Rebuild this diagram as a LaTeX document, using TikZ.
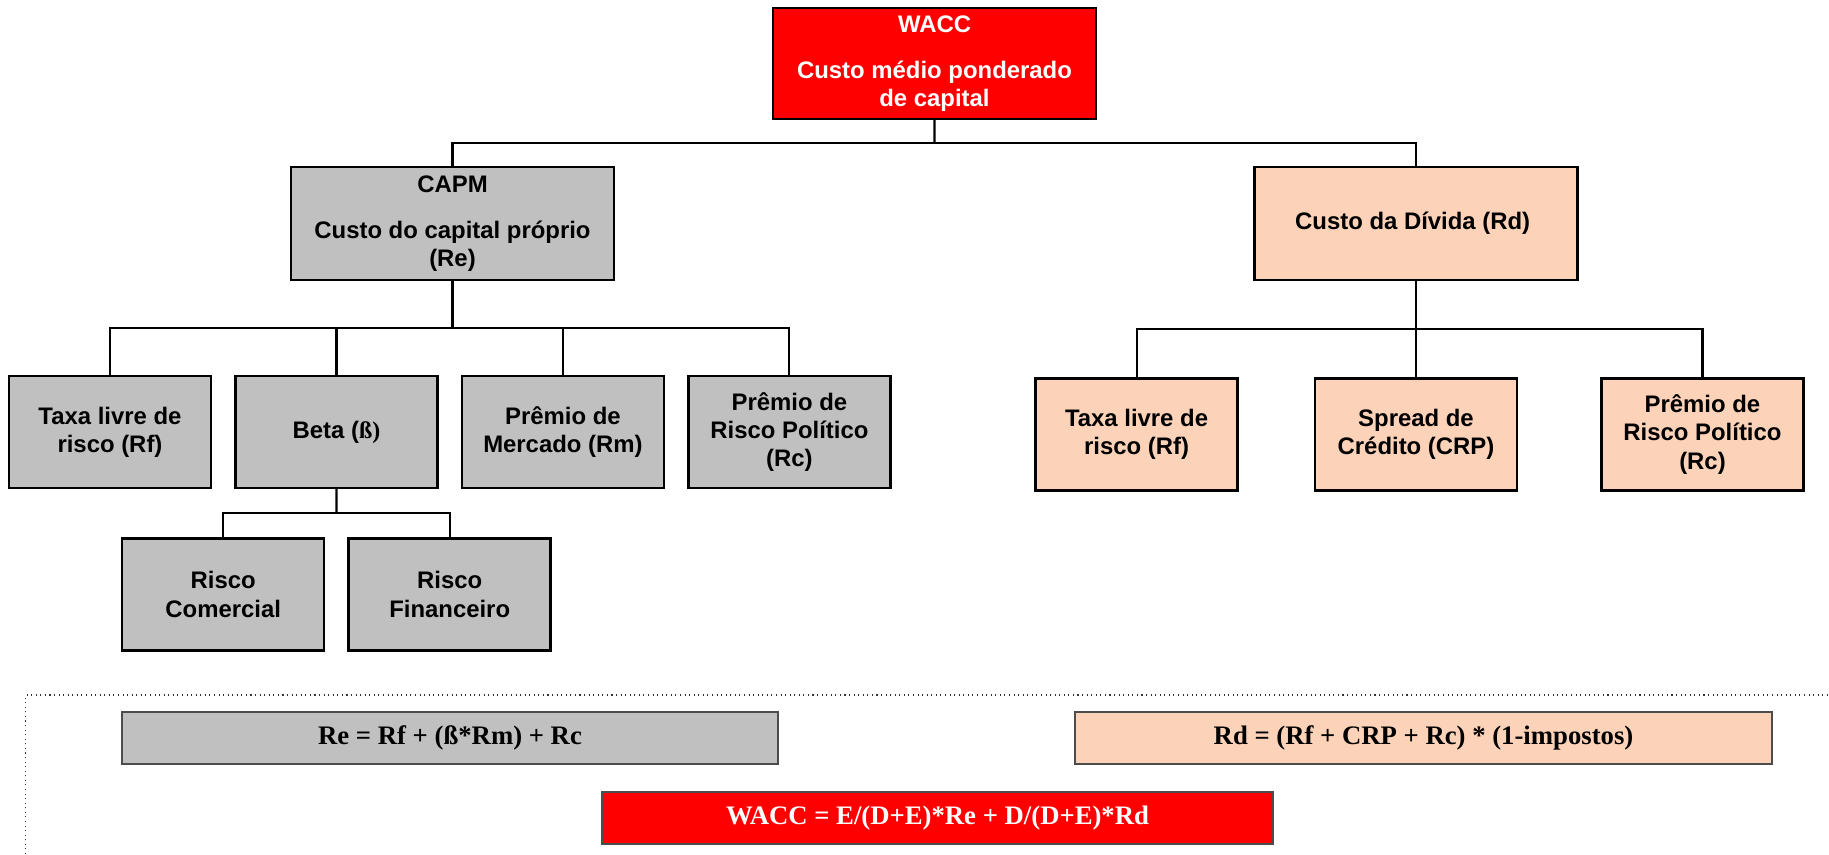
\documentclass[tikz,border=0pt]{standalone}
\usepackage{fontspec}
\setmainfont{Liberation Serif}
\setsansfont{Liberation Sans}
\usetikzlibrary{positioning, calc}
\definecolor{cWaccFill}{RGB}{255, 0, 0}
\definecolor{cEqFill}{RGB}{192, 192, 192}
\definecolor{cDebtFill}{RGB}{252, 210, 184}
\definecolor{lineColor}{RGB}{0, 0, 0}
\tikzset{
    % base box style
    block/.style={
        rectangle, draw=black, line width=1.4pt,
        align=center, inner sep=2pt,
        font=\fontsize{13.6}{16}\selectfont\sffamily\bfseries
    },
    % colour styles per branch
    waccBox/.style={block, fill=cWaccFill, text=white, minimum width=6.46cm, minimum height=2.22cm},
    eqBox/.style={block, fill=cEqFill, minimum width=6.46cm, minimum height=2.26cm},
    debtBox/.style={block, fill=cDebtFill, minimum width=6.46cm, minimum height=2.26cm},
    leafEq/.style={block, fill=cEqFill, minimum width=4.04cm, minimum height=2.24cm},
    leafDebt/.style={block, fill=cDebtFill, minimum width=4.04cm, minimum height=2.24cm},
    conn/.style={draw=lineColor, line width=1.2pt},
    % formula strips at the bottom
    formula/.style={
        rectangle, draw=black!70, line width=0.7pt, inner sep=2pt,
        minimum height=1.04cm,
        font=\fontsize{15.2}{18}\selectfont\rmfamily\bfseries
    }
}

\begin{document}
\begin{tikzpicture}
	\useasboundingbox (0,0) rectangle (36.58,-17.08);

	% ==========================================
	% 1. WACC (root)
	% ==========================================
	\node [waccBox] (wacc) at (18.69,-1.27) {
		WACC\\[10pt]
		Custo médio ponderado\\
		de capital
	};

	% ==========================================
	% 2. CAPM / Custo da Divida
	% ==========================================
	\node [eqBox] (capm) at (9.05,-4.47) {
		CAPM\\[10pt]
		Custo do capital próprio\\
		(Re)
	};

	\node [debtBox] (divida) at (28.32,-4.47) {
		Custo da Dívida (Rd)
	};

	% ==========================================
	% 3. Componentes do CAPM
	% ==========================================
	\node [leafEq] (rfEq) at (2.2,-8.64) {Taxa livre de\\risco (Rf)};
	\node [leafEq, right=0.44cm of rfEq] (beta) {Beta ({\rmfamily ß)}};
	\node [leafEq, right=0.44cm of beta] (rm) {Prêmio de\\Mercado (Rm)};
	\node [leafEq, right=0.44cm of rm] (rcEq) {Prêmio de\\Risco Político\\(Rc)};

	% --- Beta ---
	\node [leafEq, below left=0.96cm and 0.22cm of beta.south] (rCom) {Risco\\Comercial};
	\node [leafEq, below right=0.96cm and 0.22cm of beta.south] (rFin) {Risco\\Financeiro};

	% ==========================================
	% 4. Componentes da Divida
	% ==========================================
	\node [leafDebt, below=1.92cm of divida] (crp) {Spread de\\Crédito (CRP)};
	\node [leafDebt, left=1.5cm of crp] (rfDebt) {Taxa livre de\\risco (Rf)};
	\node [leafDebt, right=1.64cm of crp] (rcDebt) {Prêmio de\\Risco Político\\(Rc)};

	% ==========================================
	% Ligacoes
	% ==========================================
	\coordinate (busTop) at ($(wacc.south)!0.5!(wacc.south |- capm.north)$);
	\coordinate (busEq) at ($(capm.south)!0.5!(capm.south |- rfEq.north)$);
	\coordinate (busDebt) at ($(divida.south)!0.5!(divida.south |- crp.north)$);
	\coordinate (busBeta) at ($(beta.south)!0.5!(beta.south |- rCom.north)$);

	\draw [conn] (wacc.south) -- (busTop);
	\draw [conn] (capm.north) |- (busTop) -| (divida.north);

	\draw [conn] (capm.south) -- (busEq);
	\draw [conn] (rfEq.north) |- (busEq) -| (rcEq.north);
	\draw [conn] (beta.north) -- (beta.north |- busEq);
	\draw [conn] (rm.north) -- (rm.north |- busEq);

	\draw [conn] (beta.south) -- (busBeta);
	\draw [conn] (rCom.north) |- (busBeta) -| (rFin.north);

	\draw [conn] (divida.south) -- (crp.north);
	\draw [conn] (rfDebt.north) |- (busDebt) -| (rcDebt.north);

	% ==========================================
	% Formulas
	% ==========================================
	\draw [black!80, dotted, line width=0.6pt] (0.514,-17.08) |- (36.58,-13.9);

	\node [formula, fill=cEqFill, minimum width=13.12cm] (fRe) at (9.0,-14.76) {
		Re = Rf + (ß*Rm) + Rc
	};
	\node [formula, fill=cDebtFill, minimum width=13.94cm] (fRd) at (28.47,-14.76) {
		Rd = (Rf + CRP + Rc) * (1-impostos)
	};
	\node [formula, fill=cWaccFill, text=white, minimum width=13.42cm] (fWacc) at (18.75,-16.36) {
		WACC = E/(D+E)*Re + D/(D+E)*Rd
	};

\end{tikzpicture}
\end{document}
